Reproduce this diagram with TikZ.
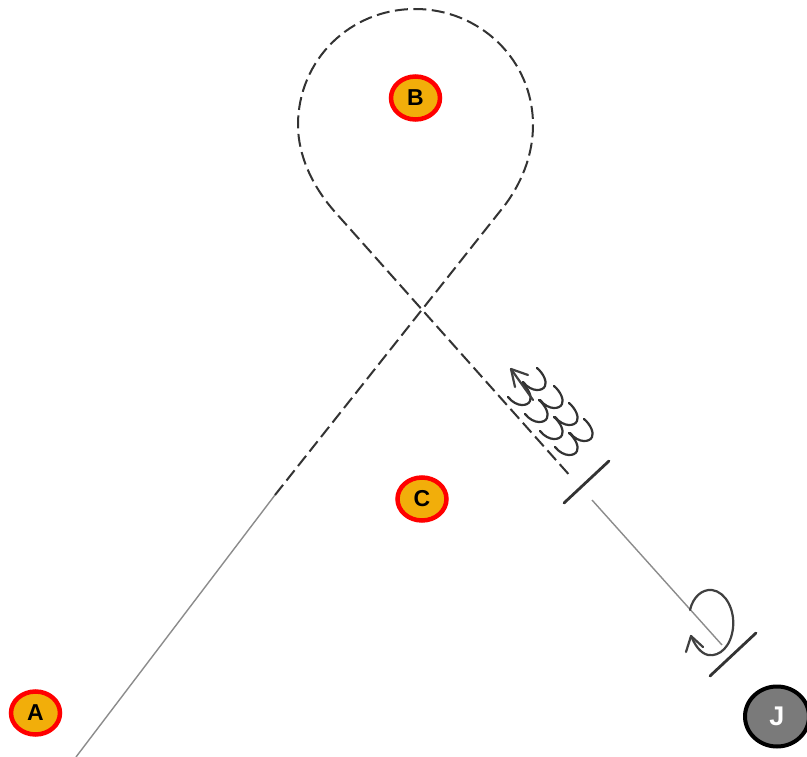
\documentclass[tikz,border=0pt]{standalone}
\usepackage{fontspec}
\setmainfont{Liberation Sans}
\usetikzlibrary{shapes.geometric}
\definecolor{amberfill}{HTML}{F2AE0A}
\tikzset{
  wpt/.style={ellipse,draw=red,line width=4.5pt,fill=amberfill,minimum width=49pt,minimum height=43pt,inner sep=0pt,font=\fontsize{23}{23}\selectfont\bfseries,text=black},
  rte/.style={line width=2pt,draw=black!80,dash pattern=on 13pt off 5.5pt},
  thinrte/.style={line width=1.4pt,draw=black!45},
  ticky/.style={line width=2.8pt,draw=black!80,line cap=round},
  scallop/.style={line width=2.2pt,draw=black!80,line cap=round},
  curl/.style={line width=2.2pt,draw=black!75,line cap=round,line join=round}
}
\begin{document}
\begin{tikzpicture}[x=1pt,y=-1pt]
\useasboundingbox (0,0) rectangle (807,757);
\fill[white] (0,0) rectangle (807,757);
\coordinate (s) at (76,757);
\coordinate (d) at (275,495);
\coordinate (e) at (572,478);
% route
\draw[thinrte] (s) -- (d);
\draw[rte] (d) -- (505,205) .. controls (525,178) and (533,150) .. (533,125)
  .. controls (533,60) and (480,9) .. (415,9)
  .. controls (350,9) and (298,60) .. (298,125)
  .. controls (298,155) and (312,186) .. (335,212) -- (e);
% ticks and thin leg
\draw[ticky] (564,503) -- (609,461);
\draw[ticky] (710,676) -- (756,633);
\draw[thinrte] (592,500) -- (722,645);
% scallops
\foreach \px/\py in {538/391,555/409,570/426,585/442,523/406,540/423,555/440,570/456}{
  \pgfmathsetmacro{\qx}{\px}\pgfmathsetmacro{\qy}{\py}
  \draw[scallop] (\qx-1,\qy-23) .. controls (\qx+6,\qy-17) and (\qx+9,\qy-9) .. (\qx+7,\qy-5) .. controls (\qx+5,\qy) and (\qx-6,\qy+2) .. (\qx-15,\qy-9);
}
\draw[curl] (533,400) -- (511,369);
\draw[curl] (528,375) -- (511,369) -- (515,387);
% curl
\draw[curl] (690,610) .. controls (693,597) and (702,589) .. (712,590)
  .. controls (726,592) and (735,610) .. (733,628)
  .. controls (731,646) and (720,657) .. (708,655)
  .. controls (700,653) and (695,645) .. (691,636);
\draw[curl] (686,652) -- (691,636) -- (703,647);
% waypoints
\node[wpt] (B) at (415.5,98) {B};
\node[wpt] (C) at (422,499) {C};
\node[wpt] (A) at (35.5,713) {A};
\node[ellipse,draw=black,line width=4pt,fill=black!52,minimum width=64pt,minimum height=60pt,inner sep=0pt,text=white,font=\fontsize{27}{27}\selectfont\bfseries] (J) at (777,716.5) {J};
\end{tikzpicture}
\end{document}
